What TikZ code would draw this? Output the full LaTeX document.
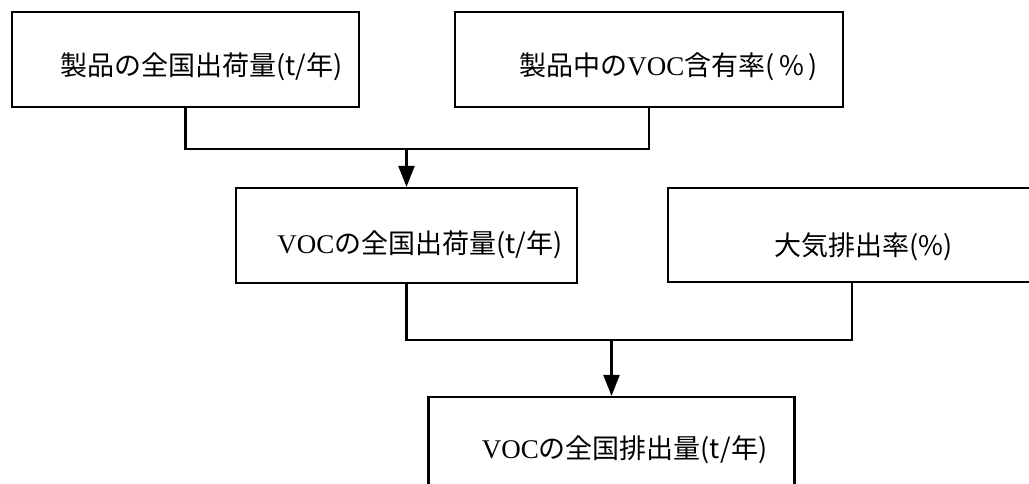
\documentclass[tikz,border=0pt]{standalone}
\usepackage{fontspec}
\setmainfont{Noto Sans CJK JP}
\newfontfamily\vocfont{Liberation Serif}
\usetikzlibrary{arrows.meta}
\newcommand{\VOC}{{\vocfont VOC}}
\tikzset{
  box/.style={draw, line width=2.2pt, inner sep=0pt, rectangle},
  txt/.style={inner sep=0pt, font=\fontsize{27}{27}\selectfont, text height=0.88em, text depth=0.12em, anchor=center},
  link/.style={line width=2.2pt},
  arr/.style={line width=2.2pt, -{Triangle[length=21pt,width=16pt]}}
}
\begin{document}
\begin{tikzpicture}[x=1pt,y=-1pt]
\useasboundingbox (0,0) rectangle (1029,484);
\fill[white] (0,0) rectangle (1029,484);
\clip (0,0) rectangle (1029,484);
% boxes
\node[box, minimum width=347pt, minimum height=95pt] (A) at (185.5,59.5) {};
\node[box, minimum width=388pt, minimum height=95pt] (B) at (649,59.5) {};
\node[box, minimum width=341pt, minimum height=95pt] (C) at (406.5,235.5) {};
\node[box, minimum width=368pt, minimum height=94pt] (D) at (852,235) {};
\node[box, minimum width=366pt, minimum height=110pt] (E) at (611.5,452) {};
% texts
\node[txt] (At) at (201.5,72) {製品の全国出荷量(t/年)};
\node[txt] (Bt) at (668.5,72) {製品中の\VOC 含有率(\,\%\,)};
\node[txt] (Ct) at (420,250) {\VOC の全国出荷量(t/年)};
\node[txt] (Dt) at (863.5,252) {大気排出率(\%)};
\node[txt] (Et) at (624.5,455) {\VOC の全国排出量(t/年)};
% connectors
\coordinate (j1) at (406.5,149);
\coordinate (j2) at (611.5,340);
\draw[link] (A.south) |- (j1) -| (B.south);
\draw[arr] (j1) -- (C.north);
\draw[link] (C.south) |- (j2) -| (D.south);
\draw[arr] (j2) -- (E.north);
\end{tikzpicture}
\end{document}
